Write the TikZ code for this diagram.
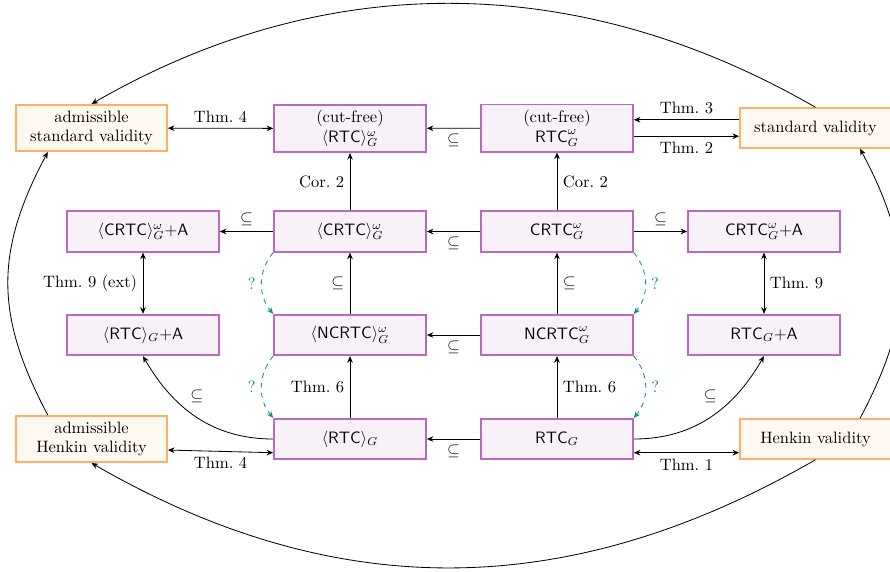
\documentclass[tikz,border=0pt]{standalone}
\usepackage{amsmath,amssymb}
\usetikzlibrary{arrows.meta,calc}
\definecolor{pborder}{RGB}{184,106,190}
\definecolor{pfill}{RGB}{248,241,248}
\definecolor{oborder}{RGB}{255,176,100}
\definecolor{ofill}{RGB}{255,249,241}
\definecolor{qcol}{RGB}{20,140,140}
\tikzset{
  sysbox/.style={draw=pborder, fill=pfill, line width=1.1pt, minimum width=92pt, minimum height=24.5pt, align=center, inner sep=2pt},
  sysboxtwo/.style={sysbox, minimum height=28.6pt},
  valbox/.style={draw=oborder, fill=ofill, line width=1.1pt, minimum width=91.5pt, minimum height=24pt, align=center, inner sep=2pt},
  valboxtwo/.style={valbox, minimum height=28pt},
  conn/.style={line width=0.5pt, -{Stealth[length=4pt,width=3.4pt]}},
  dbl/.style={line width=0.5pt, {Stealth[length=4pt,width=3.4pt]}-{Stealth[length=4pt,width=3.4pt]}},
  qarr/.style={line width=0.5pt, draw=qcol, dashed, -{Stealth[length=4pt,width=3.4pt]}},
  qlab/.style={text=qcol}
}
\begin{document}
\begin{tikzpicture}[x=0.6061pt,y=0.6061pt]
\useasboundingbox (0,0) rectangle (890,-571);

\node[valboxtwo] (asv) at (91.5,-128) {admissible\\standard validity};
\node[sysboxtwo] (rtcw) at (350,-128.5) {(cut-free)\\$\langle\mathsf{RTC}\rangle^{\omega}_{G}$};
\node[sysboxtwo] (RTCw) at (557,-128) {(cut-free)\\$\mathsf{RTC}^{\omega}_{G}$};
\node[valbox] (sv) at (815.5,-128) {standard validity};

\node[sysbox] (cA) at (143,-231.5) {$\langle\mathsf{CRTC}\rangle^{\omega}_{G}$\textsf{+A}};
\node[sysbox] (cL) at (350,-231.5) {$\langle\mathsf{CRTC}\rangle^{\omega}_{G}$};
\node[sysbox] (cR) at (557,-231.5) {$\mathsf{CRTC}^{\omega}_{G}$};
\node[sysbox] (cRA) at (764,-231.5) {$\mathsf{CRTC}^{\omega}_{G}$\textsf{+A}};

\node[sysbox] (rA) at (143,-335) {$\langle\mathsf{RTC}\rangle_{G}$\textsf{+A}};
\node[sysbox] (nL) at (350,-335) {$\langle\mathsf{NCRTC}\rangle^{\omega}_{G}$};
\node[sysbox] (nR) at (557,-335) {$\mathsf{NCRTC}^{\omega}_{G}$};
\node[sysbox] (rRA) at (764,-335) {$\mathsf{RTC}_{G}$\textsf{+A}};

\node[valboxtwo] (ahv) at (91.5,-439) {admissible\\Henkin validity};
\node[sysbox] (rL) at (350,-439) {$\langle\mathsf{RTC}\rangle_{G}$};
\node[sysbox] (rR) at (557,-439) {$\mathsf{RTC}_{G}$};
\node[valbox] (hv) at (815.5,-439) {Henkin validity};

% top row
\draw[dbl] (asv) -- node[above]{Thm.~4} (rtcw);
\draw[conn] (RTCw) -- node[below]{$\subseteq$} (rtcw);
\draw[conn] ([yshift=5pt]sv.west) -- node[above]{Thm.~3} ([yshift=5pt]RTCw.east);
\draw[conn] ([yshift=-5pt]RTCw.east) -- node[below]{Thm.~2} ([yshift=-5pt]sv.west);
\draw[conn] (cL) -- node[left]{Cor.~2} (rtcw);
\draw[conn] (cR) -- node[right]{Cor.~2} (RTCw);

% second row
\draw[conn] (cL) -- node[above]{$\subseteq$} (cA);
\draw[conn] (cR) -- node[below]{$\subseteq$} (cL);
\draw[conn] (cR) -- node[above]{$\subseteq$} (cRA);
\draw[dbl] (cA) -- node[left]{Thm.~9 (ext)} (rA);
\draw[dbl] (cRA) -- node[right]{Thm.~9} (rRA);
\draw[conn] (nL) -- node[left]{$\subseteq$} (cL);
\draw[conn] (nR) -- node[right]{$\subseteq$} (cR);

% third row
\draw[conn] (nR) -- node[below]{$\subseteq$} (nL);
\draw[conn] (rL) -- node[left]{Thm.~6} (nL);
\draw[conn] (rR) -- node[right]{Thm.~6} (nR);

% bottom row
\draw[conn] (rR) -- node[below]{$\subseteq$} (rL);
\draw[conn] (rL.west) to[out=180,in=-60] node[above=5pt]{$\subseteq$} (rA.south);
\draw[conn] (rR.east) to[out=0,in=-120] node[above=5pt]{$\subseteq$} (rRA.south);
\draw[dbl] ([yshift=-6.7pt]ahv.east) -- node[below]{Thm.~4} ([yshift=-8.3pt]rL.west);
\draw[dbl] ([yshift=-8.3pt]rR.east) -- node[below]{Thm.~1} ([yshift=-8.3pt]hv.west);

% open questions
\draw[qarr] (cL.south west) to[bend right=40] node[left,qlab]{?} (nL.north west);
\draw[qarr] (nL.south west) to[bend right=40] node[left,qlab]{?} (rL.north west);
\draw[qarr] (cR.south east) to[bend left=40] node[right,qlab]{?} (nR.north east);
\draw[qarr] (nR.south east) to[bend left=40] node[right,qlab]{?} (rR.north east);

% outer curves
\draw[conn] (sv.north) to[out=150,in=30,looseness=0.96] (asv.north);
\draw[conn] ([xshift=-26.5pt]ahv.north) to[out=118,in=-118,looseness=1.1] ([xshift=-26.5pt]asv.south);
\draw[conn] (hv.south) to[out=-150,in=-30] (ahv.south);
\draw[conn] ([xshift=27pt]hv.north) to[out=62,in=-62,looseness=1.1] ([xshift=27pt]sv.south);
\end{tikzpicture}
\end{document}
